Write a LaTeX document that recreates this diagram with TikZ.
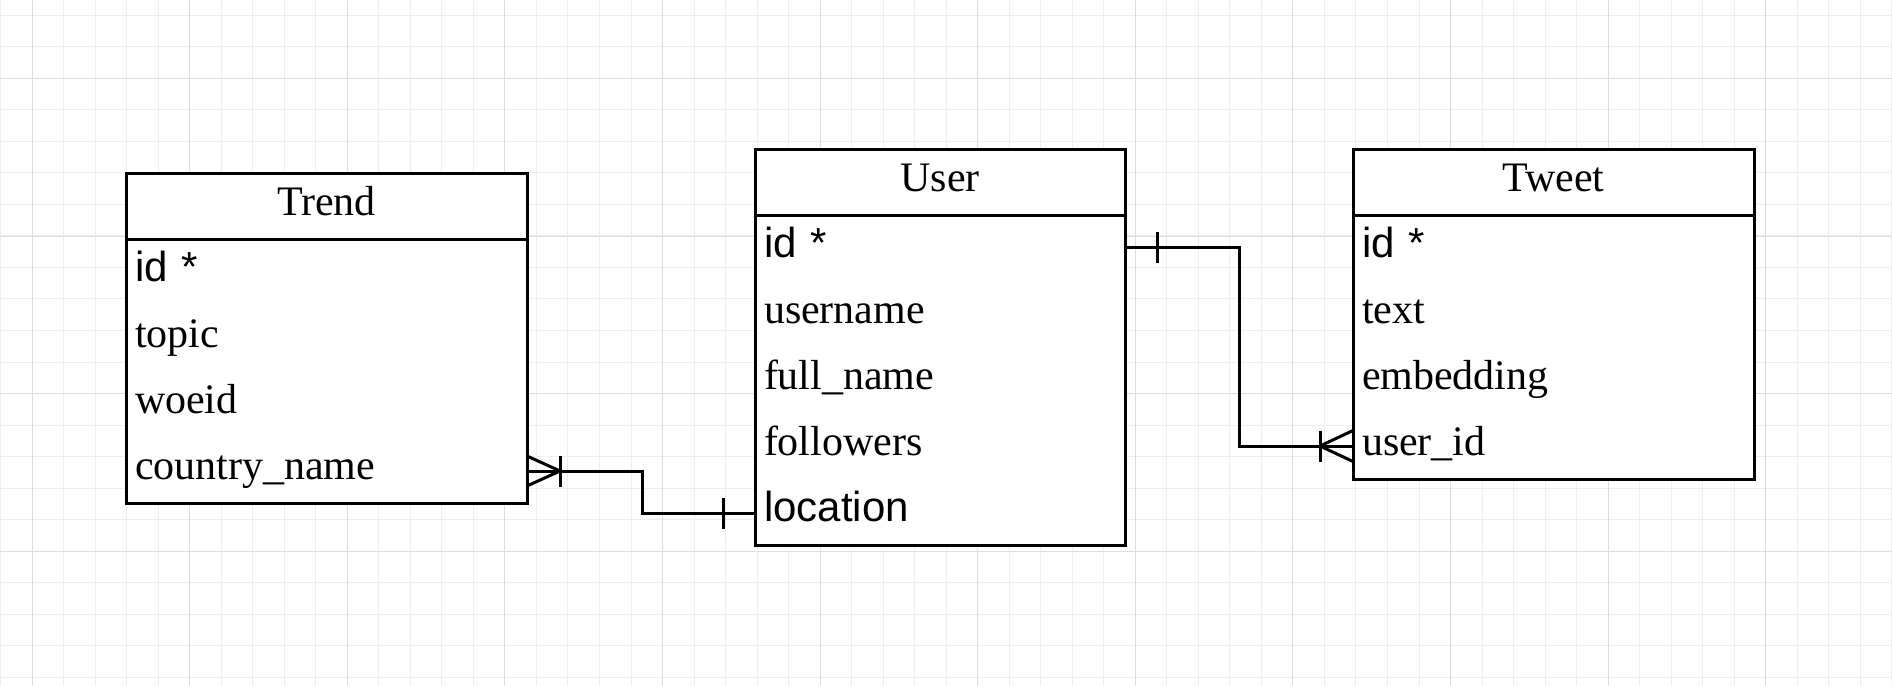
\documentclass[tikz,border=0pt]{standalone}
\usepackage{fontspec}
\setmainfont{Liberation Serif}
\newfontfamily\arialf{Liberation Sans}
\definecolor{gridminor}{RGB}{238,238,238}
\definecolor{gridmajor}{RGB}{221,221,221}
\begin{document}
\begin{tikzpicture}[x=0.5pt,y=-0.5pt,
  hdr/.style={draw, fill=white, line width=1.5pt, inner sep=0pt, outer sep=0pt, anchor=north west,
    text height=21pt, text depth=12pt, font=\fontsize{21}{25}\selectfont},
  rowc/.style={fill=white, inner xsep=4.5pt, inner ysep=0pt, outer sep=0pt, anchor=north west,
    align=left, text height=21pt, text depth=12pt, font=\fontsize{21}{25}\selectfont},
  frame/.style={draw, line width=1.5pt},
  conn/.style={draw, line width=1.5pt},
  gmin/.style={draw=gridminor, line width=0.5pt},
  gmaj/.style={draw=gridmajor, line width=0.5pt}]
\useasboundingbox (0,0) rectangle (1892,686);
\fill[white] (0,0) rectangle (1892,686);
% grid
\foreach \i in {0,...,60} \draw[gmin] ({0.6+31.52*\i},0) -- ++(0,686);
\foreach \i in {0,...,21} \draw[gmin] (0,{15.3+31.52*\i}) -- ++(1892,0);
\foreach \i in {0,...,11} \draw[gmaj] ({32.1+157.6*\i},0) -- ++(0,686);
\foreach \i in {0,...,3} \draw[gmaj] (0,{78.4+157.6*\i}) -- ++(1892,0);

% Trend
\node[hdr, minimum width=200.5pt] (trh) at (126,173) {Trend};
\node[rowc, text width=191.5pt] (tr1) at (126,239) {\arialf id *};
\node[rowc, text width=191.5pt] (tr2) at (126,305) {topic};
\node[rowc, text width=191.5pt] (tr3) at (126,371) {woeid};
\node[rowc, text width=191.5pt] (tr4) at (126,437) {country\_name};
\draw[frame] (tr1.north west) rectangle (tr4.south east);

% User
\node[hdr, minimum width=185pt] (ush) at (755,149) {User};
\node[rowc, text width=176pt] (us1) at (755,215) {\arialf id *};
\node[rowc, text width=176pt] (us2) at (755,281) {username};
\node[rowc, text width=176pt] (us3) at (755,347) {full\_name};
\node[rowc, text width=176pt] (us4) at (755,413) {followers};
\node[rowc, text width=176pt] (us5) at (755,479) {\arialf location};
\draw[frame] (us1.north west) rectangle (us5.south east);

% Tweet
\node[hdr, minimum width=200.5pt] (twh) at (1353,149) {Tweet};
\node[rowc, text width=191.5pt] (tw1) at (1353,215) {\arialf id *};
\node[rowc, text width=191.5pt] (tw2) at (1353,281) {text};
\node[rowc, text width=191.5pt] (tw3) at (1353,347) {embedding};
\node[rowc, text width=191.5pt] (tw4) at (1353,413) {user\_id};
\draw[frame] (tw1.north west) rectangle (tw4.south east);

% Trend.country_name  >|----|  User.location
\draw[conn] ([shift={(0,1)}]tr4.east) -- ++(115,0) |- ([shift={(0,1)}]us5.west);
\draw[conn] ([shift={(0,-14)}]tr4.east) -- ([shift={(33,1)}]tr4.east) -- ([shift={(0,16)}]tr4.east);
\draw[conn] ([shift={(33,-14.5)}]tr4.east) -- ([shift={(33,16.5)}]tr4.east);
\draw[conn] ([shift={(-32,-14.5)}]us5.west) -- ([shift={(-32,16.5)}]us5.west);

% User.id  |----<|  Tweet.user_id
\draw[conn] ([shift={(0,-1)}]us1.east) -- ++(114,0) |- (tw4.west);
\draw[conn] ([shift={(32,-16.5)}]us1.east) -- ([shift={(32,14.5)}]us1.east);
\draw[conn] ([shift={(0,-15.5)}]tw4.west) -- ([shift={(-33,0)}]tw4.west) -- ([shift={(0,15.5)}]tw4.west);
\draw[conn] ([shift={(-33,-15.5)}]tw4.west) -- ([shift={(-33,15.5)}]tw4.west);
\end{tikzpicture}
\end{document}
